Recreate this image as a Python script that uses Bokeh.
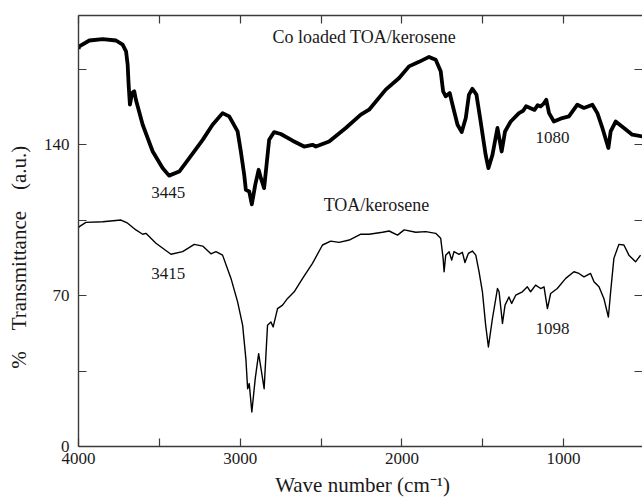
from bokeh.plotting import figure
from bokeh.models import Range1d, LinearAxis, FixedTicker, ColumnDataSource
from bokeh.core.properties import value
from bokeh.embed import file_html
from bokeh.resources import INLINE

# ---- data ----
top_wn = [4000, 3995, 3933, 3850, 3768, 3727, 3706, 3696, 3690, 3682, 3669, 3655, 3645, 3603,
          3541, 3480, 3440, 3377, 3315, 3232, 3171, 3109, 3068, 3016, 2996, 2975, 2965, 2944,
          2928, 2907, 2886, 2872, 2852, 2837, 2821, 2790, 2749, 2676, 2605, 2553, 2532, 2450,
          2347, 2254, 2203, 2100, 2017, 1956, 1894, 1832, 1791, 1760, 1745, 1729, 1704, 1687,
          1656, 1630, 1605, 1585, 1564, 1539, 1513, 1482, 1465, 1440, 1409, 1383, 1362, 1327,
          1276, 1250, 1232, 1214, 1180, 1160, 1142, 1123, 1107, 1090, 1060, 1008, 967, 915,
          874, 822, 791, 760, 723, 709, 678, 627, 575, 513]
top_T = [184.5, 185.7, 188.4, 189.0, 188.4, 186.5, 183.4, 177.2, 167.9, 158.6, 164.0, 164.8,
         160.9, 149.3, 136.9, 129.2, 125.7, 127.6, 133.8, 142.3, 149.3, 154.7, 153.2, 146.2,
         136.9, 126.0, 119.1, 118.3, 112.4, 121.4, 128.4, 124.5, 119.9, 130.7, 142.3, 145.9,
         145.0, 141.9, 139.2, 140.0, 139.2, 141.5, 147.8, 154.0, 156.3, 165.6, 171.0, 176.4,
         178.5, 180.8, 179.5, 174.1, 164.8, 162.5, 164.0, 158.6, 149.3, 145.9, 152.4, 163.3,
         166.0, 163.3, 150.8, 135.3, 129.2, 135.3, 147.8, 136.9, 146.2, 150.8, 154.7, 155.8,
         157.9, 157.3, 156.2, 158.4, 157.8, 159.1, 160.9, 154.7, 150.8, 152.4, 153.2, 158.6,
         157.1, 158.6, 154.7, 147.8, 138.5, 146.2, 150.8, 147.8, 144.7, 143.9]

bot_wn = [4000, 3995, 3954, 3850, 3737, 3696, 3645, 3603, 3583, 3521, 3428, 3356, 3284, 3232,
          3181, 3150, 3109, 3057, 3016, 2985, 2965, 2954, 2944, 2928, 2907, 2886, 2868, 2852,
          2841, 2831, 2810, 2796, 2769, 2738, 2707, 2666, 2614, 2553, 2491, 2440, 2388, 2326,
          2254, 2203, 2120, 2079, 2027, 1986, 1914, 1852, 1791, 1760, 1745, 1739, 1729, 1708,
          1692, 1678, 1647, 1626, 1610, 1589, 1564, 1543, 1523, 1502, 1482, 1465, 1440, 1409,
          1399, 1378, 1362, 1338, 1321, 1296, 1255, 1224, 1204, 1173, 1142, 1121, 1100, 1080,
          1039, 987, 936, 905, 874, 833, 812, 781, 751, 723, 709, 689, 658, 627, 596, 555, 524]
bot_T = [101.5, 102.0, 104.0, 104.3, 105.1, 103.6, 100.5, 98.5, 98.9, 94.3, 89.2, 90.4, 93.8,
         93.0, 89.4, 90.4, 88.8, 78.0, 67.1, 56.3, 40.8, 26.8, 29.2, 16.0, 31.5, 43.1, 34.6,
         26.8, 42.3, 56.3, 57.8, 55.5, 64.0, 65.6, 68.7, 71.8, 78.0, 85.0, 93.5, 95.3, 94.7,
         95.8, 98.5, 98.5, 99.4, 100.0, 98.1, 100.5, 99.4, 99.7, 98.9, 96.6, 87.3, 81.1, 88.8,
         90.4, 86.5, 90.4, 89.2, 90.1, 85.4, 89.6, 90.7, 88.8, 81.1, 71.8, 56.3, 46.2, 59.4,
         73.3, 71.8, 57.1, 65.6, 69.4, 66.4, 70.2, 71.8, 74.1, 71.8, 74.9, 73.3, 74.1, 64.0,
         71.0, 73.3, 78.0, 81.1, 80.3, 78.7, 80.3, 76.4, 74.1, 68.7, 60.1, 71.8, 87.3, 93.8,
         93.5, 88.8, 85.7, 88.8]

name_text = ["Co loaded TOA/kerosene", "TOA/kerosene"]
name_x = [2233, 2157]
name_y = [189.8, 112.1]

peak_text = ["3445", "3415", "1080", "1098"]
peak_x = [3445, 3445, 1069, 1068]
peak_y = [118.0, 80.3, 143.6, 54.7]

x_major = [4000, 3000, 2000, 1000]
x_minor = [3500, 2500, 1500, 500]
y_major = [0, 70, 140]
y_minor = [35, 105, 175]

FONT = "Liberation Serif"
AX = "#3a3a3a"

p = figure(width=642, height=502, output_backend="svg", toolbar_location=None,
           x_range=Range1d(4000, 512), y_range=Range1d(0, 200),
           min_border_left=78, min_border_top=15, min_border_right=0, min_border_bottom=56,
           background_fill_color="white", border_fill_color="white")
p.outline_line_color = None
p.xgrid.visible = False
p.ygrid.visible = False


def style(ax):
    ax.axis_line_color = AX
    ax.axis_line_width = 1.4
    for k in ("major", "minor"):
        setattr(ax, k + "_tick_line_color", AX)
        setattr(ax, k + "_tick_line_width", 1.2)
        setattr(ax, k + "_tick_in", 8)
        setattr(ax, k + "_tick_out", 0)
    ax.major_label_text_font = FONT
    ax.major_label_text_font_size = "17px"
    ax.major_label_text_color = "#1a1a1a"
    ax.axis_label_text_font = FONT
    ax.axis_label_text_font_size = "21px"
    ax.axis_label_text_font_style = "normal"
    ax.axis_label_text_color = "#1a1a1a"


xa = p.xaxis[0]
style(xa)
xa.ticker = FixedTicker(ticks=x_major, minor_ticks=x_minor)
xa.major_label_standoff = 6
xa.axis_label = "\u2009Wave number (cm\u207b\u00b9)"
xa.axis_label_standoff = 6

ya = p.yaxis[0]
style(ya)
ya.ticker = FixedTicker(ticks=y_major, minor_ticks=y_minor)
ya.major_label_standoff = 9
ya.axis_label = "%\u2003Transmittance\u2003(a.u.)\u2003\u2003\u2002"
ya.axis_label_standoff = 10

top_ax = LinearAxis(ticker=FixedTicker(ticks=[], minor_ticks=x_major + x_minor))
style(top_ax)
top_ax.major_label_standoff = 0
p.add_layout(top_ax, "above")

right_ax = LinearAxis(ticker=FixedTicker(ticks=[], minor_ticks=y_major + y_minor))
style(right_ax)
right_ax.axis_line_color = None
right_ax.major_label_standoff = 0
p.add_layout(right_ax, "right")

p.line(top_wn, top_T, line_width=3.8, line_color="black", line_join="round")
p.line(bot_wn, bot_T, line_width=1.4, line_color="black", line_join="round")

names = ColumnDataSource(dict(x=name_x, y=name_y, t=name_text))
peaks = ColumnDataSource(dict(x=peak_x, y=peak_y, t=peak_text))
p.text(x="x", y="y", text="t", source=names, text_font=value(FONT),
       text_font_size=value("18px"), text_align="center", text_baseline="middle",
       text_color="#1a1a1a")
p.text(x="x", y="y", text="t", source=peaks, text_font=value(FONT),
       text_font_size=value("17px"), text_align="center", text_baseline="middle",
       text_color="#1a1a1a")

open("out.html", "w").write(file_html(p, INLINE))
